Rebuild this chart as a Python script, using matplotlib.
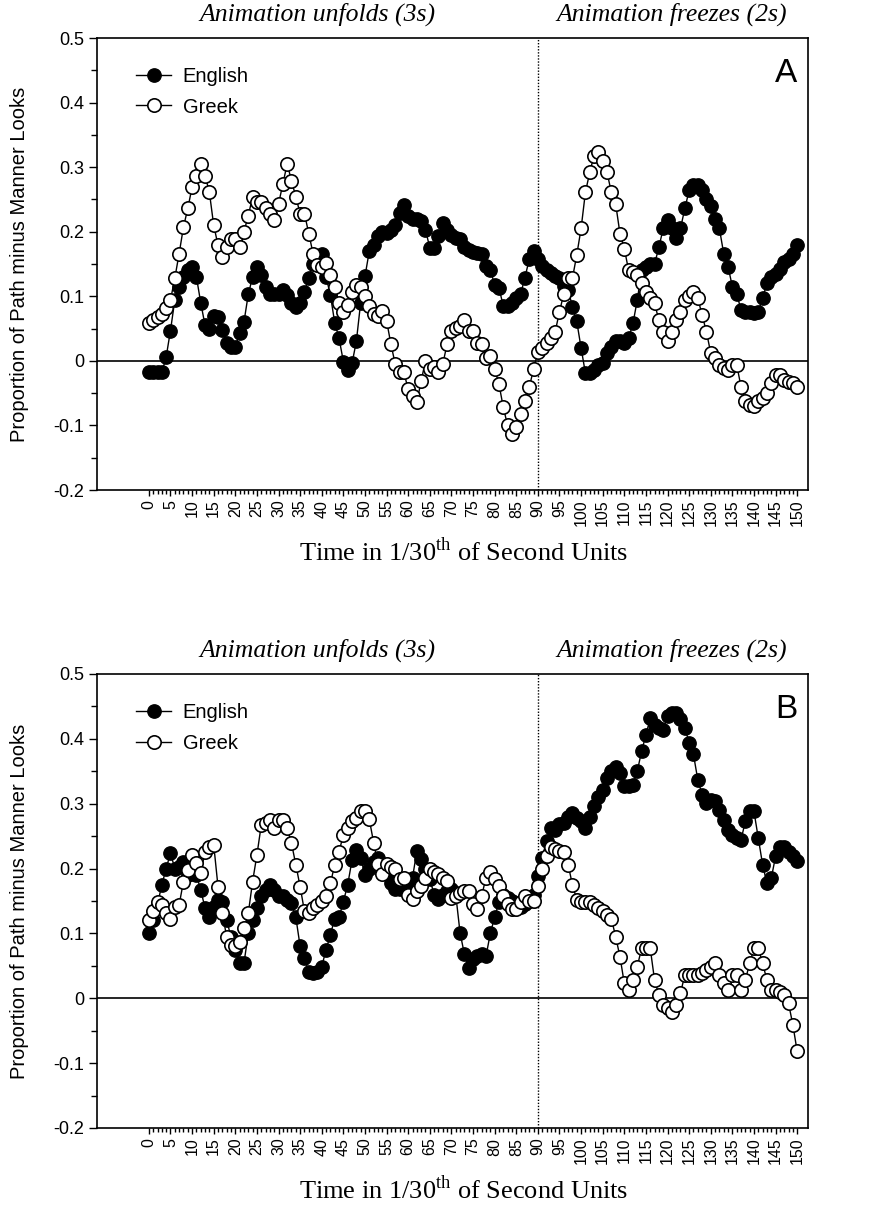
import numpy as np
import matplotlib
matplotlib.use("Agg")
import matplotlib.pyplot as plt
from matplotlib.ticker import MultipleLocator, FixedLocator

plt.rcParams['font.family'] = ['Liberation Sans', 'DejaVu Sans']
plt.rcParams['mathtext.fontset'] = 'custom'
plt.rcParams['mathtext.rm'] = 'Liberation Serif'

time = np.arange(0, 151)

english_a = [
    -0.018, -0.018, -0.018, -0.018, 0.006, 0.047, 0.094, 0.115, 0.13, 0.14,
    0.146, 0.13, 0.09, 0.055, 0.05, 0.07, 0.068, 0.048, 0.027, 0.022,
    0.022, 0.043, 0.06, 0.103, 0.13, 0.146, 0.133, 0.115, 0.104, 0.104,
    0.104, 0.11, 0.102, 0.089, 0.084, 0.089, 0.107, 0.128, 0.15, 0.163,
    0.165, 0.13, 0.102, 0.059, 0.035, -0.001, -0.014, -0.004, 0.03, 0.09,
    0.131, 0.17, 0.18, 0.193, 0.2, 0.198, 0.203, 0.21, 0.229, 0.242,
    0.225, 0.219, 0.219, 0.216, 0.203, 0.175, 0.175, 0.193, 0.213, 0.203,
    0.195, 0.19, 0.188, 0.177, 0.172, 0.168, 0.167, 0.165, 0.147, 0.141,
    0.118, 0.113, 0.085, 0.085, 0.09, 0.098, 0.103, 0.129, 0.157, 0.17,
    0.157, 0.147, 0.141, 0.136, 0.132, 0.129, 0.116, 0.11, 0.084, 0.061,
    0.02, -0.019, -0.019, -0.014, -0.006, -0.004, 0.012, 0.022, 0.03, 0.03,
    0.027, 0.035, 0.058, 0.094, 0.14, 0.146, 0.15, 0.15, 0.176, 0.205,
    0.218, 0.205, 0.19, 0.205, 0.236, 0.264, 0.272, 0.272, 0.264, 0.25,
    0.24, 0.22, 0.205, 0.166, 0.146, 0.115, 0.104, 0.079, 0.076, 0.075,
    0.074, 0.076, 0.097, 0.12, 0.13, 0.135, 0.143, 0.153, 0.158, 0.165,
    0.179]

greek_a = [
    0.058, 0.063, 0.068, 0.072, 0.082, 0.094, 0.128, 0.166, 0.207, 0.236,
    0.269, 0.287, 0.305, 0.287, 0.261, 0.21, 0.179, 0.161, 0.176, 0.189,
    0.189, 0.176, 0.2, 0.225, 0.254, 0.246, 0.246, 0.236, 0.228, 0.218,
    0.243, 0.274, 0.305, 0.279, 0.254, 0.228, 0.228, 0.197, 0.166, 0.148,
    0.146, 0.151, 0.133, 0.115, 0.089, 0.076, 0.086, 0.107, 0.117, 0.115,
    0.1, 0.085, 0.072, 0.069, 0.077, 0.062, 0.026, -0.005, -0.018, -0.018,
    -0.044, -0.054, -0.064, -0.031, 0.0, -0.013, -0.01, -0.018, -0.005, 0.026,
    0.046, 0.051, 0.054, 0.064, 0.046, 0.046, 0.028, 0.026, 0.005, 0.008,
    -0.013, -0.036, -0.072, -0.1, -0.113, -0.103, -0.082, -0.062, -0.041, -0.013,
    0.014, 0.02, 0.027, 0.035, 0.045, 0.076, 0.104, 0.128, 0.128, 0.164,
    0.205, 0.261, 0.292, 0.318, 0.323, 0.31, 0.292, 0.261, 0.243, 0.197,
    0.174, 0.14, 0.138, 0.133, 0.12, 0.107, 0.097, 0.089, 0.063, 0.045,
    0.03, 0.045, 0.063, 0.076, 0.094, 0.1, 0.107, 0.097, 0.071, 0.045,
    0.012, 0.004, -0.006, -0.011, -0.014, -0.006, -0.006, -0.04, -0.062, -0.068,
    -0.07, -0.062, -0.058, -0.05, -0.034, -0.022, -0.022, -0.03, -0.032, -0.034,
    -0.04]

english_b = [
    0.1, 0.12, 0.145, 0.175, 0.2, 0.224, 0.2, 0.203, 0.21, 0.19,
    0.2, 0.19, 0.167, 0.139, 0.126, 0.14, 0.152, 0.149, 0.12, 0.095,
    0.075, 0.054, 0.054, 0.1, 0.121, 0.139, 0.157, 0.167, 0.175, 0.167,
    0.157, 0.157, 0.152, 0.147, 0.125, 0.08, 0.062, 0.041, 0.039, 0.041,
    0.049, 0.075, 0.098, 0.123, 0.125, 0.149, 0.175, 0.213, 0.229, 0.217,
    0.19, 0.2, 0.21, 0.217, 0.2, 0.191, 0.178, 0.168, 0.168, 0.17,
    0.173, 0.186, 0.227, 0.214, 0.199, 0.184, 0.16, 0.153, 0.16, 0.165,
    0.168, 0.16, 0.101, 0.068, 0.047, 0.06, 0.065, 0.068, 0.065, 0.1,
    0.125, 0.148, 0.16, 0.155, 0.15, 0.145, 0.14, 0.145, 0.15, 0.16,
    0.189, 0.217, 0.243, 0.263, 0.26, 0.269, 0.271, 0.28, 0.285, 0.278,
    0.273, 0.262, 0.28, 0.296, 0.311, 0.321, 0.34, 0.35, 0.357, 0.347,
    0.327, 0.327, 0.329, 0.35, 0.381, 0.406, 0.432, 0.422, 0.417, 0.414,
    0.435, 0.44, 0.44, 0.43, 0.417, 0.394, 0.376, 0.337, 0.314, 0.301,
    0.306, 0.304, 0.29, 0.275, 0.26, 0.252, 0.247, 0.244, 0.273, 0.288,
    0.288, 0.247, 0.206, 0.177, 0.185, 0.219, 0.234, 0.234, 0.225, 0.219,
    0.211]

greek_b = [
    0.121, 0.134, 0.149, 0.144, 0.131, 0.123, 0.141, 0.144, 0.18, 0.198,
    0.221, 0.208, 0.193, 0.226, 0.234, 0.237, 0.172, 0.131, 0.095, 0.082,
    0.08, 0.087, 0.108, 0.131, 0.18, 0.221, 0.267, 0.27, 0.275, 0.262,
    0.275, 0.275, 0.262, 0.239, 0.206, 0.172, 0.134, 0.131, 0.139, 0.144,
    0.15, 0.157, 0.177, 0.206, 0.226, 0.252, 0.262, 0.273, 0.278, 0.288,
    0.289, 0.276, 0.24, 0.207, 0.191, 0.207, 0.202, 0.199, 0.184, 0.186,
    0.16, 0.153, 0.166, 0.173, 0.185, 0.199, 0.194, 0.191, 0.186, 0.181,
    0.155, 0.158, 0.163, 0.166, 0.166, 0.145, 0.137, 0.158, 0.186, 0.194,
    0.184, 0.173, 0.158, 0.145, 0.137, 0.137, 0.148, 0.158, 0.15, 0.15,
    0.173, 0.199, 0.22, 0.233, 0.23, 0.227, 0.226, 0.206, 0.175, 0.152,
    0.149, 0.149, 0.149, 0.144, 0.139, 0.134, 0.129, 0.123, 0.095, 0.064,
    0.023, 0.013, 0.028, 0.049, 0.077, 0.077, 0.077, 0.028, 0.005, -0.01,
    -0.015, -0.021, -0.01, 0.008, 0.036, 0.036, 0.036, 0.036, 0.039, 0.044,
    0.049, 0.054, 0.036, 0.023, 0.013, 0.036, 0.036, 0.013, 0.028, 0.054,
    0.077, 0.077, 0.054, 0.028, 0.013, 0.013, 0.01, 0.005, -0.008, -0.041,
    -0.082]

panels = [("A", english_a, greek_a), ("B", english_b, greek_b)]
phase_labels = ["Animation unfolds (3s)", "Animation freezes (2s)"]
phase_centers = [39, 121]
freeze_at = 90

fig = plt.figure(figsize=(8.7, 12.12), dpi=100)
W, H = 870.0, 1212.0
boxes = [(97, 38, 808, 490), (97, 674, 808, 1128)]
serif = ['Liberation Serif', 'DejaVu Serif']

for (letter, eng, grk), (x0, y0, x1, y1) in zip(panels, boxes):
    ax = fig.add_axes([x0 / W, 1 - y1 / H, (x1 - x0) / W, (y1 - y0) / H])
    ax.axhline(0, color='black', lw=1.2, zorder=1)
    ax.axvline(freeze_at, color='black', lw=1.0, ls=(0, (1, 1.2)), zorder=1)
    ax.plot(time, eng, '-o', color='black', lw=1.0, ms=9.6,
            mfc='black', mec='black', mew=1.0, label='English', zorder=3)
    ax.plot(time, grk, '-o', color='black', lw=1.0, ms=9.6,
            mfc='white', mec='black', mew=1.2, label='Greek', zorder=4)

    ax.set_xlim(-12, 152.5)
    ax.set_ylim(-0.2, 0.5)
    ax.set_xticks(np.arange(0, 151, 5))
    ax.set_xticklabels([str(v) for v in range(0, 151, 5)], rotation=90, fontsize=11.5)
    ax.xaxis.set_minor_locator(FixedLocator(np.arange(0, 151, 1)))
    ax.yaxis.set_minor_locator(MultipleLocator(0.05))
    ax.set_yticks(np.arange(-0.2, 0.51, 0.1))
    ax.set_yticklabels(['-0.2', '-0.1', '0', '0.1', '0.2', '0.3', '0.4', '0.5'], fontsize=13)
    ax.tick_params(axis='both', which='both', direction='out', width=1.0, color='black')
    ax.tick_params(axis='y', which='major', length=6, pad=3)
    ax.tick_params(axis='y', which='minor', length=4)
    ax.tick_params(axis='x', which='major', length=4, pad=3)
    ax.tick_params(axis='x', which='minor', length=3)
    for s in ax.spines.values():
        s.set_linewidth(1.2)

    ax.set_ylabel('Proportion of Path minus Manner Looks', fontsize=14.5)
    ax.yaxis.set_label_coords(-0.096, 0.5)

    ax.legend(loc='upper left', bbox_to_anchor=(0.03, 0.975), frameon=False,
              fontsize=14.5, handlelength=1.7, handletextpad=0.6, labelspacing=0.55)
    ax.text(0.985, 0.955, letter, transform=ax.transAxes, ha='right', va='top',
            fontsize=24)

    for lab, xc in zip(phase_labels, phase_centers):
        ax.annotate(lab, xy=(xc, 1.0), xycoords=('data', 'axes fraction'),
                    xytext=(0, 9), textcoords='offset points', ha='center',
                    va='bottom', fontsize=18.5, style='italic', family=serif)

    fig.text(464 / W, 1 - (y1 + 62) / H, 'Time in 1/30$^{\\mathrm{th}}$ of Second Units',
             ha='center', va='center', fontsize=19, family=serif)

fig.savefig('out.png', dpi=100)
